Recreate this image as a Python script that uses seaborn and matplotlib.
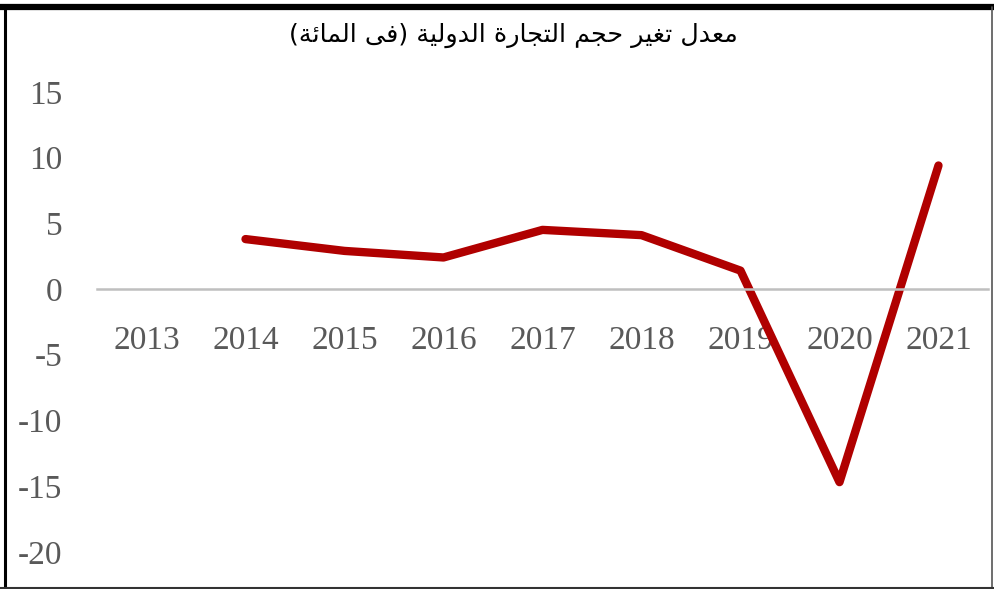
import matplotlib
matplotlib.use("Agg")
import matplotlib.pyplot as plt
import pandas as pd
import seaborn as sns
from matplotlib.lines import Line2D

years = [2013, 2014, 2015, 2016, 2017, 2018, 2019, 2020, 2021]
trade_change = [None, 3.8, 2.9, 2.4, 4.5, 4.1, 1.4, -14.7, 9.4]
y_ticks = [-20, -15, -10, -5, 0, 5, 10, 15]
title = "معدل تغير حجم التجارة الدولية (فى المائة)"

# matplotlib does not join arabic letters, so pick the presentation forms by hand
# (isolated, final, initial, medial)
FORMS = {
    'ا': ('\uFE8D', '\uFE8E', None, None),
    'ة': ('\uFE93', '\uFE94', None, None),
    'ت': ('\uFE95', '\uFE96', '\uFE97', '\uFE98'),
    'ج': ('\uFE9D', '\uFE9E', '\uFE9F', '\uFEA0'),
    'ح': ('\uFEA1', '\uFEA2', '\uFEA3', '\uFEA4'),
    'د': ('\uFEA9', '\uFEAA', None, None),
    'ر': ('\uFEAD', '\uFEAE', None, None),
    'ع': ('\uFEC9', '\uFECA', '\uFECB', '\uFECC'),
    'غ': ('\uFECD', '\uFECE', '\uFECF', '\uFED0'),
    'ف': ('\uFED1', '\uFED2', '\uFED3', '\uFED4'),
    'ل': ('\uFEDD', '\uFEDE', '\uFEDF', '\uFEE0'),
    'م': ('\uFEE1', '\uFEE2', '\uFEE3', '\uFEE4'),
    'و': ('\uFEED', '\uFEEE', None, None),
    'ي': ('\uFEF1', '\uFEF2', '\uFEF3', '\uFEF4'),
    'ى': ('\uFEEF', '\uFEF0', None, None),
    'ئ': ('\uFE89', '\uFE8A', '\uFE8B', '\uFE8C'),
}


def shape(text):
    out = []
    for i, c in enumerate(text):
        if c not in FORMS:
            out.append(c)
            continue
        prev = text[i - 1] if i > 0 else ''
        nxt = text[i + 1] if i < len(text) - 1 else ''
        jp = prev in FORMS and FORMS[prev][2] is not None
        jn = FORMS[c][2] is not None and nxt in FORMS
        iso, fin, ini, med = FORMS[c]
        if jp and jn:
            out.append(med)
        elif jp:
            out.append(fin)
        elif jn:
            out.append(ini)
        else:
            out.append(iso)
    vis = ''.join(reversed(out))
    return vis.translate(str.maketrans('()', ')('))


df = pd.DataFrame({'year': years, 'value': trade_change})

sns.set_theme(style='white')
plt.rcParams['font.family'] = ['Liberation Serif', 'DejaVu Serif']
plt.rcParams['axes.unicode_minus'] = False

fig = plt.figure(figsize=(9.94, 5.89), dpi=100)
ax = fig.add_axes([97 / 994, 0.0297, 891 / 994, 0.870])

sns.lineplot(data=df, x='year', y='value', ax=ax, color='#B00000', linewidth=6,
             solid_capstyle='round', solid_joinstyle='round')

ax.set_xlim(2012.5, 2021.5)
ax.set_ylim(-21.5, 17.5)
ax.set_xticks(years)
ax.set_xticklabels([str(y) for y in years])
ax.set_yticks(y_ticks)
ax.set_yticklabels([str(v) for v in y_ticks])
ax.set_xlabel('')
ax.set_ylabel('')

for s in ['top', 'right', 'left']:
    ax.spines[s].set_visible(False)
ax.spines['bottom'].set_position(('data', 0))
ax.spines['bottom'].set_color('#BFBFBF')
ax.spines['bottom'].set_linewidth(1.8)
ax.tick_params(axis='both', length=0, labelsize=24, labelcolor='#595959')
ax.tick_params(axis='x', pad=26)
ax.tick_params(axis='y', pad=25)

fig.text(513 / 994, 1 - 35 / 589, shape(title), ha='center', va='center',
         fontsize=18.3, color='black', family=['DejaVu Sans'])

# frame around the picture
fig.add_artist(Line2D([0, 1], [1 - 6.5 / 589] * 2, color='black', lw=4.5))
fig.add_artist(Line2D([5 / 994] * 2, [0, 1 - 6.5 / 589], color='black', lw=2.2))
fig.add_artist(Line2D([992 / 994] * 2, [0, 1 - 6.5 / 589], color='#555555', lw=1.2))
fig.add_artist(Line2D([0, 1], [1.5 / 589] * 2, color='#333333', lw=1.5))

fig.savefig('out.png', dpi=100)
